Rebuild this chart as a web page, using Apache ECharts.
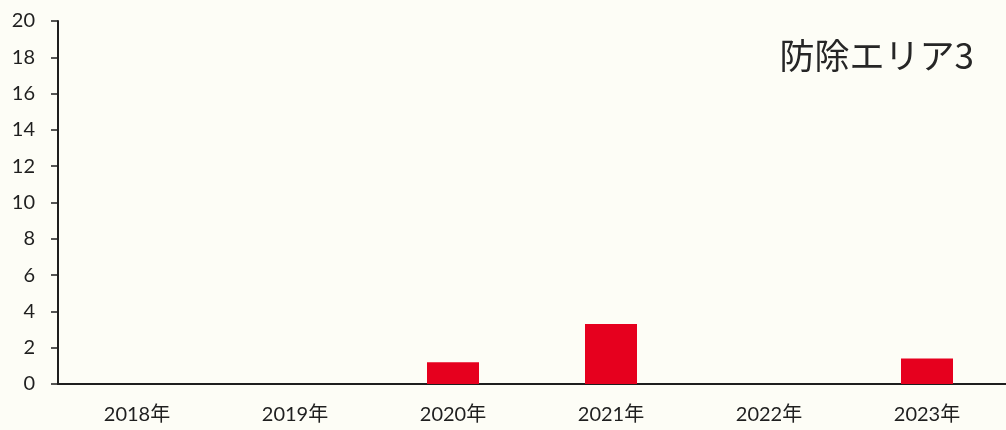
<!DOCTYPE html>
<html>
<head>
<meta charset="utf-8">
<script src="https://cdn.jsdelivr.net/npm/echarts@6/dist/echarts.min.js"></script>
<style>
  html, body { margin: 0; padding: 0; background: #fdfdf6; }
  #chart { width: 1006px; height: 430px; }
</style>
</head>
<body>
<div id="chart"></div>
<script>
// Annual values for treatment area 3
const years = ['2018年', '2019年', '2020年', '2021年', '2022年', '2023年'];
const values = [0, 0, 1.2, 3.3, 0, 1.4];
const yTicks = { min: 0, max: 20, interval: 2 };
const areaTitle = '防除エリア3';

const chart = echarts.init(document.getElementById('chart'), null, { renderer: 'canvas' });
chart.setOption({
  backgroundColor: '#fdfdf6',
  animation: false,
  title: {
    text: areaTitle,
    right: 27,
    top: 33,
    textStyle: {
      fontFamily: '"Noto Sans CJK JP", "Noto Sans", sans-serif',
      fontSize: 35,
      fontWeight: 'normal',
      color: '#262626'
    }
  },
  grid: { left: 58, top: 21, bottom: 46, width: 957 },
  xAxis: {
    type: 'category',
    data: years,
    axisLine: { lineStyle: { color: '#1e1e1e', width: 2 } },
    axisTick: { show: false },
    axisLabel: {
      margin: 21,
      fontSize: 20,
      color: '#1f1f1f',
      fontFamily: 'Lato, "Noto Sans CJK JP", sans-serif'
    }
  },
  yAxis: {
    type: 'value',
    min: yTicks.min,
    max: yTicks.max,
    interval: yTicks.interval,
    splitLine: { show: false },
    axisLine: { show: true, lineStyle: { color: '#1e1e1e', width: 2 } },
    axisTick: { show: true, length: 7, lineStyle: { color: '#1e1e1e', width: 1.5 } },
    axisLabel: {
      margin: 23,
      fontSize: 20,
      color: '#1f1f1f',
      fontFamily: 'Lato, "Noto Sans", sans-serif'
    }
  },
  series: [{
    type: 'bar',
    data: values,
    barWidth: 52,
    itemStyle: { color: '#e6001e' }
  }]
});
</script>
</body>
</html>
